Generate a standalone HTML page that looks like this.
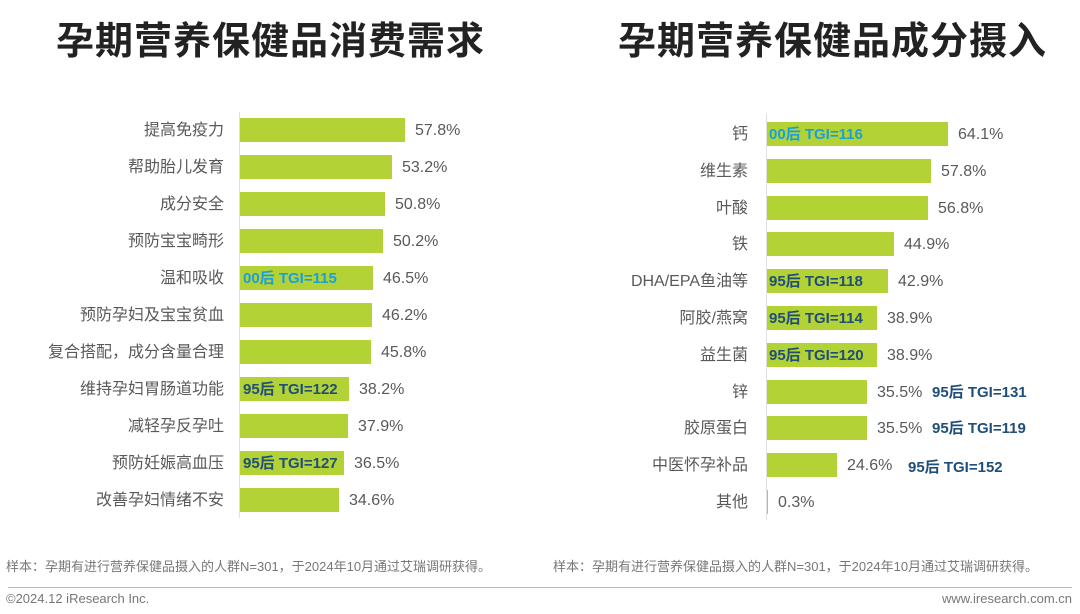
<!DOCTYPE html>
<html><head><meta charset="utf-8"><style>
body{margin:0;width:1080px;height:614px;background:#fff;position:relative;overflow:hidden;font-family:"Liberation Sans","Noto Sans CJK SC",sans-serif;}
div{position:absolute;white-space:nowrap;}
.t{top:17px;font-size:38px;font-weight:bold;color:#222;letter-spacing:1px;line-height:50px;}
.l{font-size:16px;color:#595959;text-align:right;line-height:26px;}
.b{background:#b3d235;height:24px;}
.v{font-size:16px;color:#595959;line-height:26px;}
.g{font-size:15px;font-weight:bold;line-height:26px;color:#1f4e79;}
.c{color:#1aa0d8;}
.ax{width:1px;background:#e0e0e0;}
.f{font-size:13px;color:#777;}
</style></head><body>
<div class="t" style="left:56px;">孕期营养保健品消费需求</div>
<div class="t" style="left:618px;">孕期营养保健品成分摄入</div>

<div class="ax" style="left:239px;top:112px;height:406px;"></div>
<div class="ax" style="left:766px;top:114px;height:406px;"></div>

<!-- left -->
<div class="l" style="right:856px;top:118px;">提高免疫力</div><div class="b" style="left:240px;top:118px;width:165px;"></div><div class="v" style="left:415px;top:118px;">57.8%</div>
<div class="l" style="right:856px;top:155px;">帮助胎儿发育</div><div class="b" style="left:240px;top:155px;width:152px;"></div><div class="v" style="left:402px;top:155px;">53.2%</div>
<div class="l" style="right:856px;top:192px;">成分安全</div><div class="b" style="left:240px;top:192px;width:145px;"></div><div class="v" style="left:395px;top:192px;">50.8%</div>
<div class="l" style="right:856px;top:229px;">预防宝宝畸形</div><div class="b" style="left:240px;top:229px;width:143px;"></div><div class="v" style="left:393px;top:229px;">50.2%</div>
<div class="l" style="right:856px;top:266px;">温和吸收</div><div class="b" style="left:240px;top:266px;width:133px;"></div><div class="v" style="left:383px;top:266px;">46.5%</div><div class="g c" style="left:243px;top:266px;">00后 TGI=115</div>
<div class="l" style="right:856px;top:303px;">预防孕妇及宝宝贫血</div><div class="b" style="left:240px;top:303px;width:132px;"></div><div class="v" style="left:382px;top:303px;">46.2%</div>
<div class="l" style="right:856px;top:340px;">复合搭配，成分含量合理</div><div class="b" style="left:240px;top:340px;width:131px;"></div><div class="v" style="left:381px;top:340px;">45.8%</div>
<div class="l" style="right:856px;top:377px;">维持孕妇胃肠道功能</div><div class="b" style="left:240px;top:377px;width:109px;"></div><div class="v" style="left:359px;top:377px;">38.2%</div><div class="g" style="left:243px;top:377px;">95后 TGI=122</div>
<div class="l" style="right:856px;top:414px;">减轻孕反孕吐</div><div class="b" style="left:240px;top:414px;width:108px;"></div><div class="v" style="left:358px;top:414px;">37.9%</div>
<div class="l" style="right:856px;top:451px;">预防妊娠高血压</div><div class="b" style="left:240px;top:451px;width:104px;"></div><div class="v" style="left:354px;top:451px;">36.5%</div><div class="g" style="left:243px;top:451px;">95后 TGI=127</div>
<div class="l" style="right:856px;top:488px;">改善孕妇情绪不安</div><div class="b" style="left:240px;top:488px;width:99px;"></div><div class="v" style="left:349px;top:488px;">34.6%</div>

<!-- right -->
<div class="l" style="right:332px;top:122px;">钙</div><div class="b" style="left:767px;top:122px;width:181px;"></div><div class="v" style="left:958px;top:122px;">64.1%</div><div class="g c" style="left:769px;top:122px;">00后 TGI=116</div>
<div class="l" style="right:332px;top:159px;">维生素</div><div class="b" style="left:767px;top:159px;width:164px;"></div><div class="v" style="left:941px;top:159px;">57.8%</div>
<div class="l" style="right:332px;top:196px;">叶酸</div><div class="b" style="left:767px;top:196px;width:161px;"></div><div class="v" style="left:938px;top:196px;">56.8%</div>
<div class="l" style="right:332px;top:232px;">铁</div><div class="b" style="left:767px;top:232px;width:127px;"></div><div class="v" style="left:904px;top:232px;">44.9%</div>
<div class="l" style="right:332px;top:269px;">DHA/EPA鱼油等</div><div class="b" style="left:767px;top:269px;width:121px;"></div><div class="v" style="left:898px;top:269px;">42.9%</div><div class="g" style="left:769px;top:269px;">95后 TGI=118</div>
<div class="l" style="right:332px;top:306px;">阿胶/燕窝</div><div class="b" style="left:767px;top:306px;width:110px;"></div><div class="v" style="left:887px;top:306px;">38.9%</div><div class="g" style="left:769px;top:306px;">95后 TGI=114</div>
<div class="l" style="right:332px;top:343px;">益生菌</div><div class="b" style="left:767px;top:343px;width:110px;"></div><div class="v" style="left:887px;top:343px;">38.9%</div><div class="g" style="left:769px;top:343px;">95后 TGI=120</div>
<div class="l" style="right:332px;top:380px;">锌</div><div class="b" style="left:767px;top:380px;width:100px;"></div><div class="v" style="left:877px;top:380px;">35.5%</div><div class="g" style="left:932px;top:380px;">95后 TGI=131</div>
<div class="l" style="right:332px;top:416px;">胶原蛋白</div><div class="b" style="left:767px;top:416px;width:100px;"></div><div class="v" style="left:877px;top:416px;">35.5%</div><div class="g" style="left:932px;top:416px;">95后 TGI=119</div>
<div class="l" style="right:332px;top:453px;">中医怀孕补品</div><div class="b" style="left:767px;top:453px;width:70px;"></div><div class="v" style="left:847px;top:453px;">24.6%</div><div class="g" style="left:908px;top:455px;">95后 TGI=152</div>
<div class="l" style="right:332px;top:490px;">其他</div><div class="b" style="left:767px;top:490px;width:1px;"></div><div class="v" style="left:778px;top:490px;">0.3%</div>

<div class="f" style="left:6px;top:556px;">样本：孕期有进行营养保健品摄入的人群N=301，于2024年10月通过艾瑞调研获得。</div>
<div class="f" style="left:553px;top:556px;">样本：孕期有进行营养保健品摄入的人群N=301，于2024年10月通过艾瑞调研获得。</div>
<div style="left:8px;top:587px;width:1064px;height:1px;background:#bbb;"></div>
<div class="f" style="left:6px;top:591px;">©2024.12 iResearch Inc.</div>
<div class="f" style="right:8px;top:591px;">www.iresearch.com.cn</div>
</body></html>
